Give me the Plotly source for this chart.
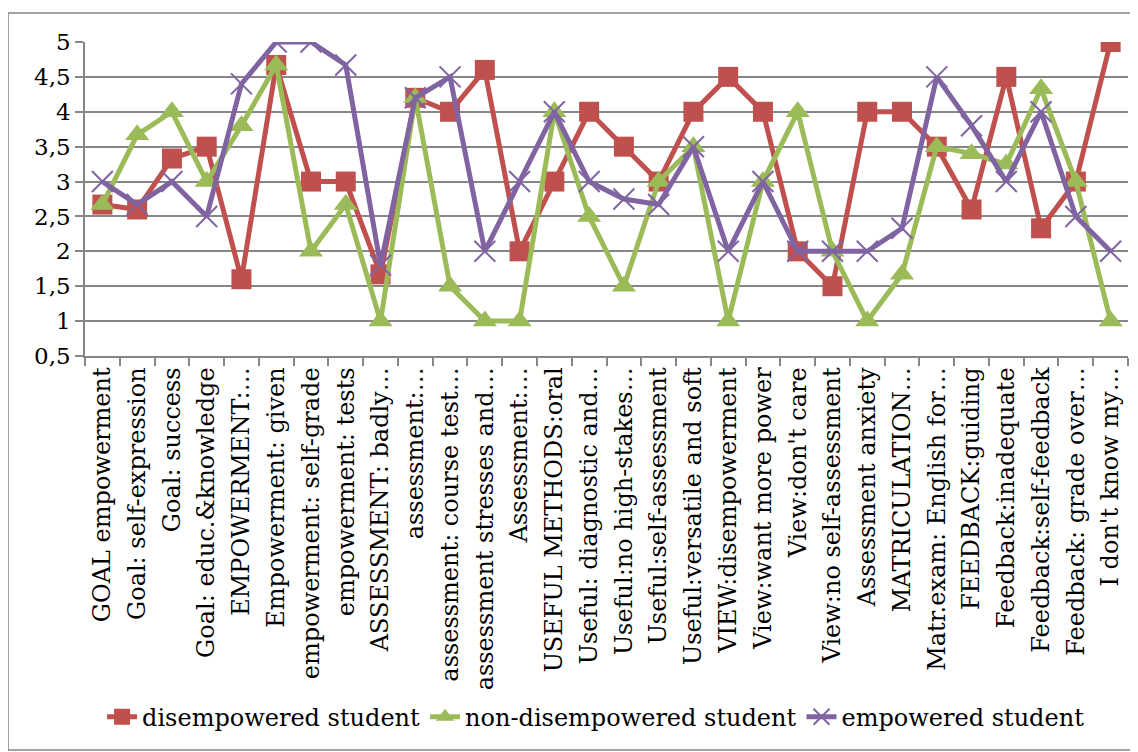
import plotly.graph_objects as go

categories = [
    "GOAL empowerment", "Goal: self-expression", "Goal: success", "Goal: educ.&knowledge",
    "EMPOWERMENT:…", "Empowerment: given", "empowerment: self-grade", "empowerment: tests",
    "ASSESSMENT: badly…", "assessment:…", "assessment: course test…", "assessment stresses and…",
    "Assessment:…", "USEFUL METHODS:oral", "Useful: diagnostic and…", "Useful:no high-stakes…",
    "Useful:self-assessment", "Useful:versatile and soft", "VIEW:disempowerment",
    "View:want more power", "View:don't care", "View:no self-assessment", "Assessment anxiety",
    "MATRICULATION…", "Matr.exam: English for…", "FEEDBACK:guiding", "Feedback:inadequate",
    "Feedback:self-feedback", "Feedback: grade over…", "I don't know my…",
]

disempowered = [2.67, 2.6, 3.33, 3.5, 1.6, 4.67, 3.0, 3.0, 1.67, 4.2, 4.0, 4.6, 2.0, 3.0, 4.0,
                3.5, 3.0, 4.0, 4.5, 4.0, 2.0, 1.5, 4.0, 4.0, 3.5, 2.6, 4.5, 2.33, 3.0, 5.0]
non_disempowered = [2.67, 3.67, 4.0, 3.0, 3.8, 4.67, 2.0, 2.67, 1.0, 4.2, 1.5, 1.0, 1.0, 4.0, 2.5,
                    1.5, 3.0, 3.5, 1.0, 3.0, 4.0, 2.0, 1.0, 1.67, 3.5, 3.4, 3.25, 4.33, 3.0, 1.0]
empowered = [3.0, 2.67, 3.0, 2.5, 4.4, 5.0, 5.0, 4.67, 1.8, 4.2, 4.5, 2.0, 3.0, 4.0, 3.0,
             2.75, 2.67, 3.5, 2.0, 3.0, 2.0, 2.0, 2.0, 2.33, 4.5, 3.8, 3.0, 4.0, 2.5, 2.0]

y_ticks = [0.5, 1, 1.5, 2, 2.5, 3, 3.5, 4, 4.5, 5]
y_tick_text = ["0,5", "1", "1,5", "2", "2,5", "3", "3,5", "4", "4,5", "5"]

RED = "#C0504D"
GREEN = "#9BBB59"
PURPLE = "#8064A2"
GRID = "#868686"
FONT = "DejaVu Serif"

fig = go.Figure()
fig.add_trace(go.Scatter(
    x=categories, y=disempowered, name="disempowered student", mode="lines+markers",
    line=dict(color=RED, width=5),
    marker=dict(symbol="square", size=20, color=RED),
))
fig.add_trace(go.Scatter(
    x=categories, y=non_disempowered, name="non-disempowered student", mode="lines+markers",
    line=dict(color=GREEN, width=5),
    marker=dict(symbol="triangle-up", size=21, color=GREEN),
))
fig.add_trace(go.Scatter(
    x=categories, y=empowered, name="empowered student", mode="lines+markers",
    line=dict(color=PURPLE, width=5),
    marker=dict(symbol="x-thin", size=21, color=PURPLE, line=dict(color=PURPLE, width=2)),
))

fig.update_layout(
    width=1130, height=744,
    margin=dict(l=77, r=10, t=34, b=396),
    paper_bgcolor="white", plot_bgcolor="white",
    font=dict(family=FONT, color="black", size=20),
    showlegend=True,
    legend=dict(orientation="h", x=0.49, xanchor="center", y=-1.15, yanchor="middle",
                font=dict(family=FONT, size=24), itemwidth=30, tracegroupgap=0),
    shapes=[dict(type="rect", xref="paper", yref="paper", x0=-0.0738, x1=1.0086,
                 y0=-1.255, y1=1.0924, line=dict(color=GRID, width=1.5), layer="below")],
)
fig.update_xaxes(
    type="category", range=[-0.5, len(categories) - 0.5], tickangle=-90,
    tickson="boundaries", ticks="outside", ticklen=8, tickcolor=GRID, tickwidth=1.5,
    showline=True, linecolor=GRID, linewidth=1.5, showgrid=False,
    tickfont=dict(family=FONT, size=24),
)
fig.update_yaxes(
    range=[0.5, 5], tickvals=y_ticks, ticktext=y_tick_text,
    ticks="outside", ticklen=8, tickcolor=GRID, tickwidth=1.5,
    showline=True, linecolor=GRID, linewidth=1.5,
    showgrid=True, gridcolor=GRID, gridwidth=1.5, zeroline=False,
    tickfont=dict(family=FONT, size=23),
)

fig.write_html("out.html")
